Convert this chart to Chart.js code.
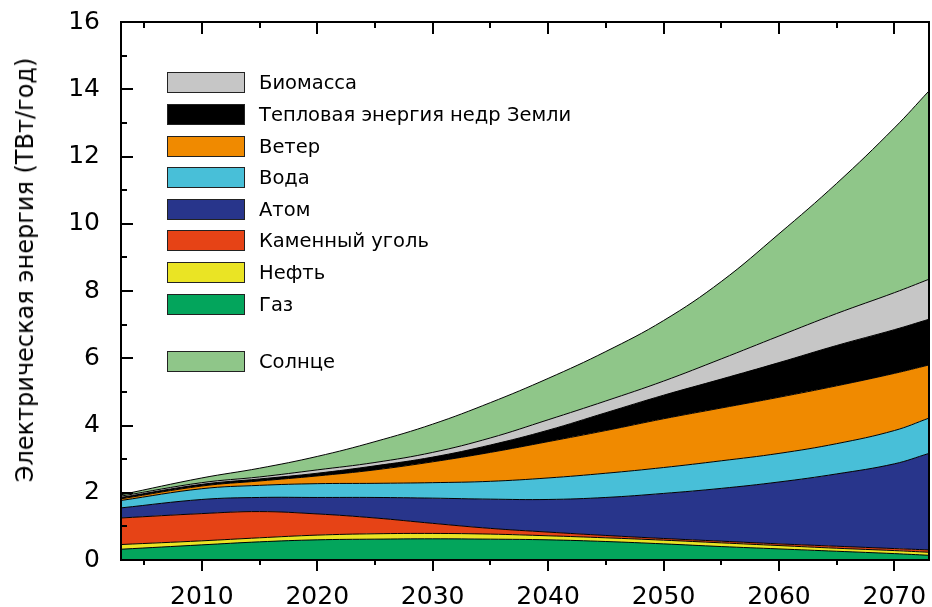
<!DOCTYPE html>
<html>
<head>
<meta charset="utf-8">
<script src="https://cdn.jsdelivr.net/npm/chart.js@4.4.1/dist/chart.umd.min.js"></script>
<style>
    body { margin: 0; background: #fff; }
    #wrap { position: relative; width: 932px; height: 607px; font-family: "DejaVu Sans", sans-serif; color: #000; }
    #ytitle { position: absolute; left: 25px; top: 270px; font-size: 24px; white-space: nowrap;
              transform: translate(-50%, -50%) rotate(-90deg); }
    .row { position: absolute; left: 167px; height: 21px; white-space: nowrap; }
    .sw { position: absolute; left: 0; top: 0; width: 76px; height: 19px; border: 1px solid #222; }
    .lbl { position: absolute; left: 92px; top: -2px; font-size: 19.5px; line-height: 25px; }
</style>
</head>
<body>
<div id="wrap">
    <canvas id="chart" width="932" height="607"></canvas>
    <div id="ytitle">Электрическая энергия (ТВт/год)</div>
    <div id="legend"></div>
</div>
<script>
// years and amounts per source, TW/year
const years   = [2003, 2010, 2015, 2020, 2025, 2030, 2035, 2040, 2045, 2050, 2055, 2060, 2065, 2070, 2073];
const gas     = [0.32, 0.45, 0.54, 0.60, 0.62, 0.63, 0.62, 0.60, 0.55, 0.48, 0.40, 0.33, 0.26, 0.19, 0.14];
const oil     = [0.14, 0.12, 0.12, 0.14, 0.16, 0.16, 0.15, 0.12, 0.11, 0.11, 0.11, 0.10, 0.09, 0.09, 0.09];
const coal    = [0.79, 0.81, 0.78, 0.63, 0.47, 0.30, 0.17, 0.11, 0.07, 0.05, 0.05, 0.05, 0.06, 0.06, 0.07];
const nuclear = [0.30, 0.42, 0.42, 0.49, 0.61, 0.75, 0.87, 0.97, 1.13, 1.34, 1.57, 1.84, 2.15, 2.52, 2.87];
const hydro   = [0.22, 0.32, 0.36, 0.41, 0.42, 0.46, 0.53, 0.64, 0.72, 0.77, 0.82, 0.85, 0.90, 0.99, 1.05];
const wind    = [0.05, 0.08, 0.13, 0.23, 0.40, 0.62, 0.86, 1.08, 1.27, 1.45, 1.57, 1.67, 1.72, 1.70, 1.58];
const geo     = [0.04, 0.05, 0.06, 0.08, 0.12, 0.14, 0.22, 0.34, 0.53, 0.70, 0.86, 1.03, 1.20, 1.30, 1.36];
const biomass = [0.04, 0.05, 0.06, 0.10, 0.10, 0.14, 0.21, 0.31, 0.35, 0.42, 0.60, 0.79, 0.95, 1.10, 1.19];
const solar   = [0.04, 0.14, 0.26, 0.40, 0.62, 0.84, 1.05, 1.23, 1.47, 1.80, 2.30, 3.04, 3.87, 4.90, 5.60];

const xTickLabels = [2010, 2020, 2030, 2040, 2050, 2060, 2070];
const yTickLabels = [0, 2, 4, 6, 8, 10, 12, 14, 16];

// bottom to top
const seriesNames  = ["Газ", "Нефть", "Каменный уголь", "Атом", "Вода", "Ветер",
                      "Тепловая энергия недр Земли", "Биомасса", "Солнце"];
const seriesColors = ["#03a55c", "#eae424", "#e64316", "#28358b", "#48bfd8", "#f08a00",
                      "#000000", "#c6c6c6", "#8fc689"];
const seriesValues = [gas, oil, coal, nuclear, hydro, wind, geo, biomass, solar];

// legend order as in the picture (top to bottom), then a gap before the sun
const legendOrder = [7, 6, 5, 4, 3, 2, 1, 0];
const legendTops = [72, 104, 135.5, 167, 198.5, 230, 262, 293.5];

const legend = document.getElementById("legend");
function addRow(i, top) {
    const row = document.createElement("div");
    row.className = "row";
    row.style.top = top + "px";
    row.innerHTML = `<div class="sw" style="background:${seriesColors[i]}"></div><div class="lbl">${seriesNames[i]}</div>`;
    legend.appendChild(row);
}
legendOrder.forEach((i, k) => addRow(i, legendTops[k]));
addRow(8, 350.5);

const frame = {
    id: "frame",
    afterDraw(chart) {
        const ctx = chart.ctx;
        const a = chart.chartArea;
        const x = chart.scales.x, y = chart.scales.y;
        ctx.save();
        ctx.strokeStyle = "#000";
        ctx.lineWidth = 2;
        ctx.strokeRect(a.left, a.top, a.right - a.left, a.bottom - a.top);
        ctx.beginPath();
        for (let v = 1; v < 16; v++) {
            const py = Math.round(y.getPixelForValue(v));
            ctx.moveTo(a.left, py);
            ctx.lineTo(a.left + (v % 2 === 0 ? 12 : 6), py);
        }
        for (let yr = 2005; yr <= 2070; yr += 5) {
            const px = Math.round(x.getPixelForValue(yr));
            const major = yr % 10 === 0;
            ctx.moveTo(px, a.top);
            ctx.lineTo(px, a.top + (major ? 12 : 6));
            ctx.moveTo(px, a.bottom);
            ctx.lineTo(px, a.bottom + (major ? 11 : 5));
        }
        ctx.stroke();
        ctx.restore();
    }
};

new Chart(document.getElementById("chart"), {
    type: "line",
    data: {
        datasets: seriesValues.map((vals, i) => ({
            label: seriesNames[i],
            data: years.map((yr, j) => ({ x: yr, y: vals[j] })),
            backgroundColor: seriesColors[i],
            borderColor: "#000",
            borderWidth: 1,
            pointRadius: 0,
            tension: 0.4,
            fill: i === 0 ? "origin" : "-1"
        }))
    },
    options: {
        responsive: false,
        animation: false,
        layout: { padding: { top: 22, right: 3, left: 0, bottom: 0 } },
        plugins: { legend: { display: false }, tooltip: { enabled: false } },
        scales: {
            x: {
                type: "linear",
                min: 2003,
                max: 2073,
                grid: { display: false, drawTicks: false },
                border: { display: false },
                ticks: {
                    color: "#000",
                    font: { family: "DejaVu Sans", size: 25 },
                    padding: 22,
                    maxRotation: 0,
                    callback: v => String(v)
                },
                afterBuildTicks: s => { s.ticks = xTickLabels.map(v => ({ value: v })); },
                afterFit: s => { s.height = 47; s.paddingLeft = 0; s.paddingRight = 0; }
            },
            y: {
                stacked: true,
                min: 0,
                max: 16,
                grid: { display: false, drawTicks: false },
                border: { display: false },
                ticks: {
                    color: "#000",
                    font: { family: "DejaVu Sans", size: 25 },
                    padding: 21
                },
                afterBuildTicks: s => { s.ticks = yTickLabels.map(v => ({ value: v })); },
                afterFit: s => { s.width = 121; s.paddingTop = 0; s.paddingBottom = 0; }
            }
        }
    },
    plugins: [frame]
});
</script>
</body>
</html>
